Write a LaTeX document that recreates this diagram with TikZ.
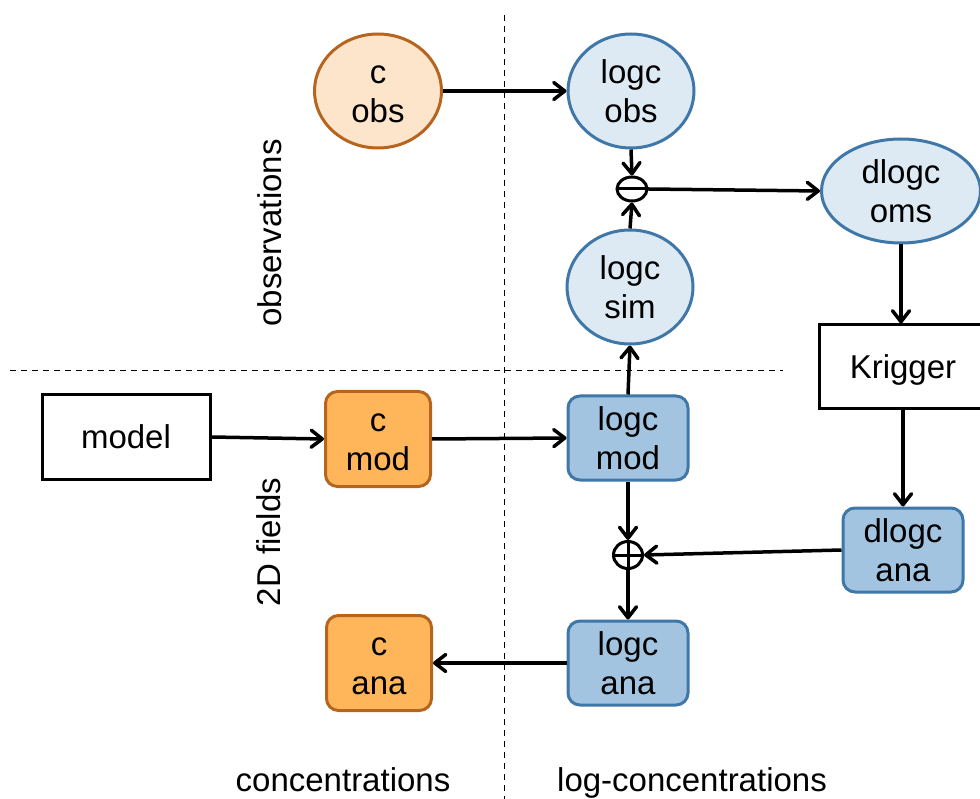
\documentclass[tikz,border=0pt]{standalone}
\usepackage{fontspec}
\setmainfont{Liberation Sans}
\usetikzlibrary{shapes.geometric,arrows.meta}
\definecolor{peach}{HTML}{FDE5CC}
\definecolor{orbord}{HTML}{B5651D}
\definecolor{orfill}{HTML}{FFB65A}
\definecolor{lbfill}{HTML}{DEEAF3}
\definecolor{bfill}{HTML}{A2C4E0}
\definecolor{bbord}{HTML}{3E77A8}
\newcommand{\myhstrut}{\rule{0pt}{24pt}}
\begin{document}
\begin{tikzpicture}[x=1pt,y=-1pt,
  every node/.style={font=\fontsize{33}{39}\selectfont, align=center, inner sep=0pt},
  one/.style={text height=24pt, text depth=0pt},
  oell/.style={ellipse, draw=orbord, fill=peach, line width=3pt, minimum width=127pt, minimum height=114pt},
  bell/.style={ellipse, draw=bbord, fill=lbfill, line width=3pt, minimum width=126pt, minimum height=114pt},
  obox/.style={rounded corners=12pt, draw=orbord, fill=orfill, line width=3pt, minimum width=105pt, minimum height=95pt},
  bbox/.style={rounded corners=12pt, draw=bbord, fill=bfill, line width=3pt, minimum width=120pt, minimum height=84pt},
  pbox/.style={one, draw=black, fill=white, line width=3pt, minimum width=168pt, minimum height=84pt},
  conn/.style={line width=3.5pt, -{Straight Barb[length=11pt,width=17pt,round]}},
  sep/.style={line width=1pt, dash pattern=on 6pt off 5pt},
  opcirc/.style={ellipse, draw=black, line width=3pt, fill=white}
]
\useasboundingbox (0,0) rectangle (980,799);
% separators
\draw[sep] (504,15) -- (504,799);
\draw[sep] (10,371) -- (783,371);
% labels
\node[rotate=90] (lobsv) at (270,233) {observations};
\node[rotate=90] (l2d) at (269,542) {2D fields};
\node[anchor=base] (lconc) at (343,791) {concentrations};
\node[anchor=base] (llog) at (692,791) {log-concentrations};
% nodes
\node[oell] (cobs) at (378,91) {\myhstrut c\\obs};
\node[bell] (lobs) at (631,91) {\myhstrut logc\\obs};
\node[bell] (lsim) at (630,287) {\myhstrut logc\\sim};
\node[bell, minimum width=159pt, minimum height=104pt] (doms) at (901,191) {\myhstrut dlogc\\oms};
\node[opcirc, minimum width=30pt, minimum height=24pt] (minus) at (632,189) {};
\draw[line width=3pt] (minus.west) -- (minus.east);
\node[pbox, minimum width=168pt] (model) at (126,437) {model};
\node[pbox] (krig) at (903,367) {Krigger};
\node[obox] (cmod) at (378,439) {\myhstrut c\\mod};
\node[obox] (cana) at (379,663) {\myhstrut c\\ana};
\node[bbox] (lmod) at (628,438) {\myhstrut logc\\mod};
\node[bbox] (lana) at (628,663) {\myhstrut logc\\ana};
\node[bbox] (dana) at (903,550) {\myhstrut dlogc\\ana};
\node[opcirc, minimum width=29pt, minimum height=27pt] (plus) at (628,555) {};
\draw[line width=3pt] (plus.west) -- (plus.east) (plus.north) -- (plus.south);
% connectors
\draw[conn] (cobs.east) -- (lobs.west);
\draw[conn] (lobs.south) -- (minus.north);
\draw[conn] (lsim.north) -- (minus.south);
\draw[conn] (minus.east) -- (doms.west);
\draw[conn] (doms.south) -- (doms.south |- krig.north);
\draw[conn] (lmod.north) -- (lsim.south);
\draw[conn] (krig.south) -- (dana.north);
\draw[conn] (lmod.south) -- (plus.north);
\draw[conn] (dana.west) -- (plus.east);
\draw[conn] (plus.south) -- (lana.north);
\draw[conn] (lana.west) -- (cana.east);
\draw[conn] (model.east) -- (cmod.west);
\draw[conn] (cmod.east) -- (lmod.west);
\end{tikzpicture}
\end{document}
